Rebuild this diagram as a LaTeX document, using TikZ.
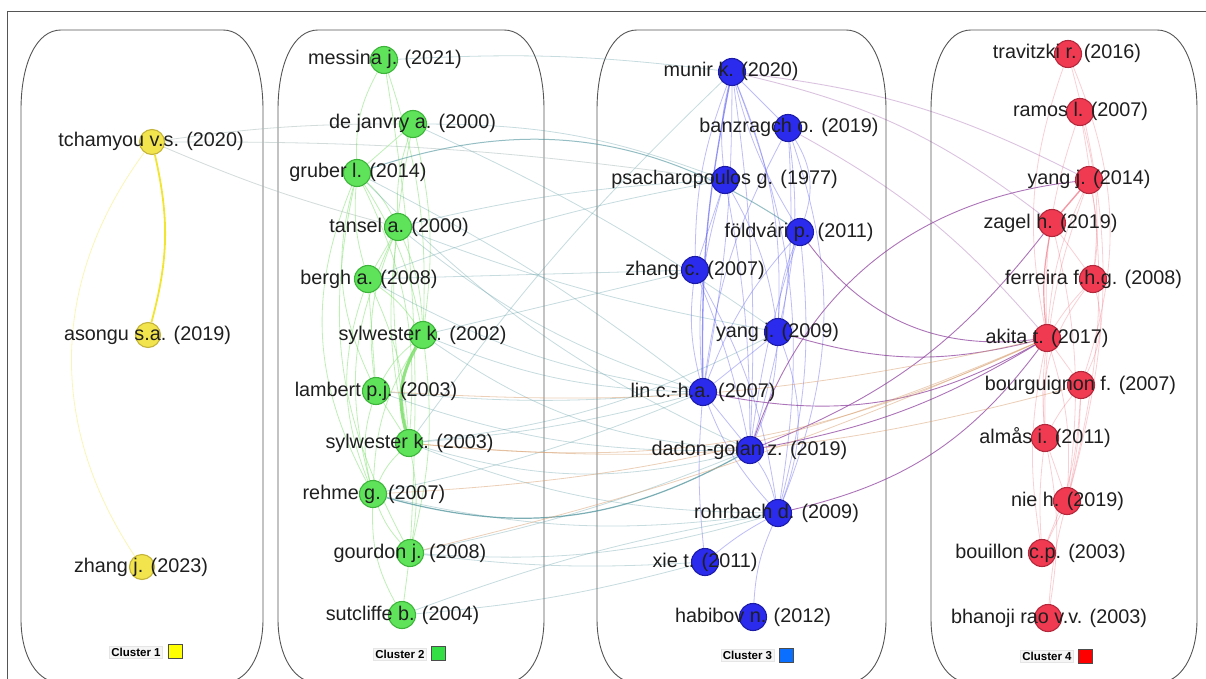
\documentclass[tikz,border=0pt]{standalone}
\usepackage{fontspec}
\setmainfont{Liberation Sans}
\usetikzlibrary{calc}
\pgfdeclarelayer{bg}\pgfdeclarelayer{boxes}\pgfdeclarelayer{edges}\pgfdeclarelayer{labels}
\pgfsetlayers{bg,boxes,edges,main,labels}
\definecolor{nY}{HTML}{F2E44C}\definecolor{nYd}{HTML}{C4B43A}
\definecolor{nG}{HTML}{5FE35A}\definecolor{nGd}{HTML}{3DB43A}
\definecolor{nB}{HTML}{2B2BEE}\definecolor{nBd}{HTML}{1C1CA8}
\definecolor{nR}{HTML}{F03A52}\definecolor{nRd}{HTML}{B4283C}
\definecolor{sqY}{HTML}{FFFF00}\definecolor{sqG}{HTML}{33DD44}
\definecolor{sqB}{HTML}{0A6EFF}\definecolor{sqR}{HTML}{FF0000}
\definecolor{eY}{HTML}{F2E530}\definecolor{eG}{HTML}{7EE06C}
\definecolor{eB}{HTML}{5A5AF0}\definecolor{eR}{HTML}{F07888}
\definecolor{eT}{HTML}{4E949C}\definecolor{eP}{HTML}{8A3A9A}
\definecolor{eO}{HTML}{D8A070}\definecolor{eX}{HTML}{A8B8B8}
\definecolor{boxc}{HTML}{555555}
\newcommand\lbl{\fontsize{19.8}{22}\selectfont}
\newcommand\pnode[6]{%
  \node[#2] (#1) at (#3,#4) {};
  \begin{pgfonlayer}{labels}\node[lab] (#1-l) at (#5,{#4+5}) {#6};\end{pgfonlayer}}
\newcommand\cbox[2]{%
  \draw[boxline] (#1,110) -- (#1,619) .. controls (#1,{619+62*0.6}) and ({#1+16},683) .. ({#1+40},683)
   -- ({#2-40},683) .. controls ({#2-16},683) and (#2,{619+62*0.6}) .. (#2,619)
   -- (#2,110) .. controls (#2,{110-48}) and ({#2-16},30) .. ({#2-40},30)
   -- ({#1+40},30) .. controls ({#1+16},30) and (#1,{110-48}) .. cycle;}
\begin{document}
\begin{tikzpicture}[x=1pt,y=-1pt,
  dot/.style={circle, minimum size=27, inner sep=0, line width=1.1},
  ny/.style={dot, fill=nY, draw=nYd, minimum size=25},
  ng/.style={dot, fill=nG, draw=nGd},
  nb/.style={dot, fill=nB, draw=nBd},
  nr/.style={dot, fill=nR, draw=nRd},
  lab/.style={font=\lbl, text=black!88, inner sep=0, anchor=base},
  boxline/.style={draw=boxc, line width=0.9},
  legtxt/.style={font=\bfseries\fontsize{11.5}{13}\selectfont, fill=black!4, draw=black!10, inner sep=2pt},
  legsq/.style={draw=black!70, line width=0.5, minimum size=14, inner sep=0},
  ey/.style={draw=eY, line width=1.8},
  eyf/.style={draw=eY, opacity=0.35, line width=0.8},
  eg/.style={draw=eG, opacity=0.5, line width=0.8},
  eb/.style={draw=eB, opacity=0.4, line width=0.8},
  er/.style={draw=eR, opacity=0.35, line width=0.8},
  et/.style={draw=eT, opacity=0.32, line width=0.8},
  ep/.style={draw=eP, opacity=0.7, line width=0.9},
  eo/.style={draw=eO, opacity=0.5, line width=0.8},
  ex/.style={draw=eX, opacity=0.5, line width=0.8}]
\useasboundingbox (0,0) rectangle (1206,679);
\begin{pgfonlayer}{bg}
\fill[white] (0,0) rectangle (1206,679);
\end{pgfonlayer}
\begin{pgfonlayer}{boxes}
\draw[boxc, line width=0.9] (7,690) -- (7,11) -- (1215,11);
\cbox{21}{263}\cbox{278}{544}\cbox{597}{886}\cbox{931}{1197}
\end{pgfonlayer}
% cluster 1
\pnode{tch}{ny}{152}{142}{151}{tchamyou v.s. (2020)}
\pnode{aso}{ny}{148}{335}{147.5}{asongu s.a. (2019)}
\pnode{zhj}{ny}{142}{567}{141}{zhang j. (2023)}
% cluster 2
\pnode{mes}{ng}{384}{60}{385}{messina j. (2021)}
\pnode{dej}{ng}{413}{124}{412.5}{de janvry a. (2000)}
\pnode{gru}{ng}{357}{173}{358}{gruber l. (2014)}
\pnode{tan}{ng}{398}{227}{399}{tansel a. (2000)}
\pnode{ber}{ng}{368}{279}{369}{bergh a. (2008)}
\pnode{sy2}{ng}{423}{335}{422.5}{sylwester k. (2002)}
\pnode{lam}{ng}{376}{391}{376}{lambert p.j. (2003)}
\pnode{sy3}{ng}{409}{443}{409.5}{sylwester k. (2003)}
\pnode{reh}{ng}{373}{494}{374}{rehme g. (2007)}
\pnode{gou}{ng}{410}{553}{410}{gourdon j. (2008)}
\pnode{sut}{ng}{402}{615}{402.5}{sutcliffe b. (2004)}
% cluster 3
\pnode{mun}{nb}{732}{72}{731}{munir k. (2020)}
\pnode{ban}{nb}{788}{128}{789}{banzragch o. (2019)}
\pnode{psa}{nb}{725}{180}{724.5}{psacharopoulos g. (1977)}
\pnode{fol}{nb}{800}{232}{799}{földvári p. (2011)}
\pnode{zhc}{nb}{695}{270}{695}{zhang c. (2007)}
\pnode{ya9}{nb}{778}{332}{777.5}{yang j. (2009)}
\pnode{lin}{nb}{703}{392}{703}{lin c.-h.a. (2007)}
\pnode{dad}{nb}{750}{450}{749.5}{dadon-golan z. (2019)}
\pnode{roh}{nb}{778}{513}{776.5}{rohrbach d. (2009)}
\pnode{xie}{nb}{705}{562}{705}{xie t. (2011)}
\pnode{hab}{nb}{753}{617}{753}{habibov n. (2012)}
% cluster 4
\pnode{tra}{nr}{1068}{54}{1067}{travitzki r. (2016)}
\pnode{ram}{nr}{1080}{112}{1080.5}{ramos l. (2007)}
\pnode{y14}{nr}{1089}{180}{1089}{yang j. (2014)}
\pnode{zag}{nr}{1052}{223}{1050.5}{zagel h. (2019)}
\pnode{fer}{nr}{1093}{279}{1093.5}{ferreira f.h.g. (2008)}
\pnode{aki}{nr}{1047}{338}{1047}{akita t. (2017)}
\pnode{bou}{nr}{1081}{385}{1080.5}{bourguignon f. (2007)}
\pnode{alm}{nr}{1045}{438}{1045}{almås i. (2011)}
\pnode{nie}{nr}{1067}{501}{1067.5}{nie h. (2019)}
\pnode{bcp}{nr}{1042}{553}{1040.5}{bouillon c.p. (2003)}
\pnode{bha}{nr}{1048}{618}{1049}{bhanoji rao v.v. (2003)}
% legends
\node[legtxt] (l1) at (136,652) {Cluster 1};
\node[legsq, fill=sqY] (s1) at (175,651) {};
\node[legtxt] (l2) at (400,654) {Cluster 2};
\node[legsq, fill=sqG] (s2) at (438.5,653.5) {};
\node[legtxt] (l3) at (747.5,655) {Cluster 3};
\node[legsq, fill=sqB] (s3) at (786.5,655) {};
\node[legtxt] (l4) at (1047,656) {Cluster 4};
\node[legsq, fill=sqR] (s4) at (1085.5,656) {};
% edges
\begin{pgfonlayer}{edges}
\draw[ey] (tch) to[bend left=14] (aso);
\draw[eyf] (tch) to[bend right=35] (zhj);
\foreach \a/\b/\k in {tch/dej/4,tch/psa/4,tch/tan/-4}
  \draw[ex] (\a) to[bend left=\k] (\b);
\foreach \a/\b/\k in {mes/gru/-15,mes/sy2/10,mes/gou/6,dej/gru/0,dej/tan/-10,dej/sy2/10,dej/sy3/-10,
  gru/tan/10,gru/ber/-10,gru/sy2/10,gru/sy3/15,gru/lam/-20,gru/reh/-25,gru/gou/-20,
  tan/ber/0,tan/sy2/10,tan/lam/-15,tan/sy3/-10,tan/reh/-20,ber/sy2/10,ber/lam/0,ber/reh/-20,ber/sy3/10,
  sy2/lam/-10,sy2/reh/-15,sy2/gou/10,lam/sy3/0,lam/reh/-15,sy3/reh/-10,sy3/gou/10,
  reh/gou/-10,reh/sut/-15,gou/sut/0}
  \draw[eg] (\a) to[bend left=\k] (\b);
\draw[draw=eG, line width=3.2, opacity=0.85] (sy2) to[bend right=22] (sy3);
\foreach \a/\b/\k in {mun/ban/0,mun/psa/-10,mun/fol/-8,mun/zhc/-10,mun/ya9/12,mun/lin/5,mun/dad/5,mun/roh/15,
  ban/fol/25,ban/ya9/10,ban/lin/-10,ban/dad/10,ban/roh/20,psa/zhc/0,psa/lin/-10,psa/ya9/10,psa/dad/5,
  fol/ya9/-10,fol/lin/-10,fol/dad/-5,fol/roh/10,zhc/lin/-10,zhc/dad/5,zhc/roh/10,
  ya9/lin/0,ya9/dad/10,ya9/roh/20,lin/dad/0,lin/roh/-10,lin/xie/-5,dad/roh/10,roh/xie/-5,roh/hab/-10}
  \draw[eb] (\a) to[bend left=\k] (\b);
\draw[draw=eB, line width=1.3, opacity=0.65] (mun) to[bend left=-6] (lin);
\foreach \a/\b/\k in {tra/aki/-15,tra/nie/15,tra/bou/20,ram/aki/-10,ram/fer/10,ram/nie/12,
  y14/aki/-10,y14/fer/10,y14/alm/-10,zag/fer/0,zag/nie/10,fer/aki/-5,fer/bou/20,fer/alm/-20,
  aki/bou/0,aki/alm/-5,aki/nie/10,aki/bcp/-10,bou/alm/-5,bou/nie/5,bou/bcp/10,alm/nie/0,alm/bcp/-5,
  alm/bha/10,nie/bcp/0,nie/bha/-5}
  \draw[er] (\a) to[bend left=\k] (\b);
\draw[draw=eR, line width=1.4, opacity=0.75] (y14) to (zag);
\draw[draw=eR, line width=1.2, opacity=0.7] (zag) to[bend right=8] (aki);
\foreach \a/\b/\k in {y14/dad/-32,aki/lin/20,aki/ya9/15,aki/roh/20,aki/dad/10,aki/fol/30,zag/dad/15}
  \draw[ep] (\a) to[bend left=\k] (\b);
\foreach \a/\b/\k in {mun/y14/10,mun/zag/12,ban/aki/10}
  \draw[ep, opacity=0.3] (\a) to[bend left=\k] (\b);
\foreach \a/\b/\k in {dej/psa/10,gru/lin/5,gru/dad/-10,tan/lin/-10,tan/psa/5,tan/ya9/-5,ber/lin/-10,
  ber/zhc/0,sy2/lin/-10,sy2/dad/-15,sy2/zhc/0,sy3/lin/-5,sy3/dad/-15,sy3/ya9/-10,sy3/roh/-10,sy3/mun/5,
  lam/dad/-10,lam/lin/-5,reh/roh/-10,reh/lin/-5,gou/roh/-10,gou/dad/-5,gou/xie/-5,sut/roh/5,sut/xie/-5,
  dej/ya9/5,mes/mun/5,ber/psa/5}
  \draw[et] (\a) to[bend left=\k] (\b);
\draw[draw=eT, line width=1.2, opacity=0.75] (reh) to[bend right=22] (dad);
\draw[draw=eT, line width=1.0, opacity=0.6] (gru) to[bend left=26] (fol);
\foreach \a/\b/\k in {reh/aki/-10,sy3/aki/-15,sy3/bou/-10,gou/aki/-5,lam/aki/-8}
  \draw[eo] (\a) to[bend left=\k] (\b);
\end{pgfonlayer}
\end{tikzpicture}
\end{document}
